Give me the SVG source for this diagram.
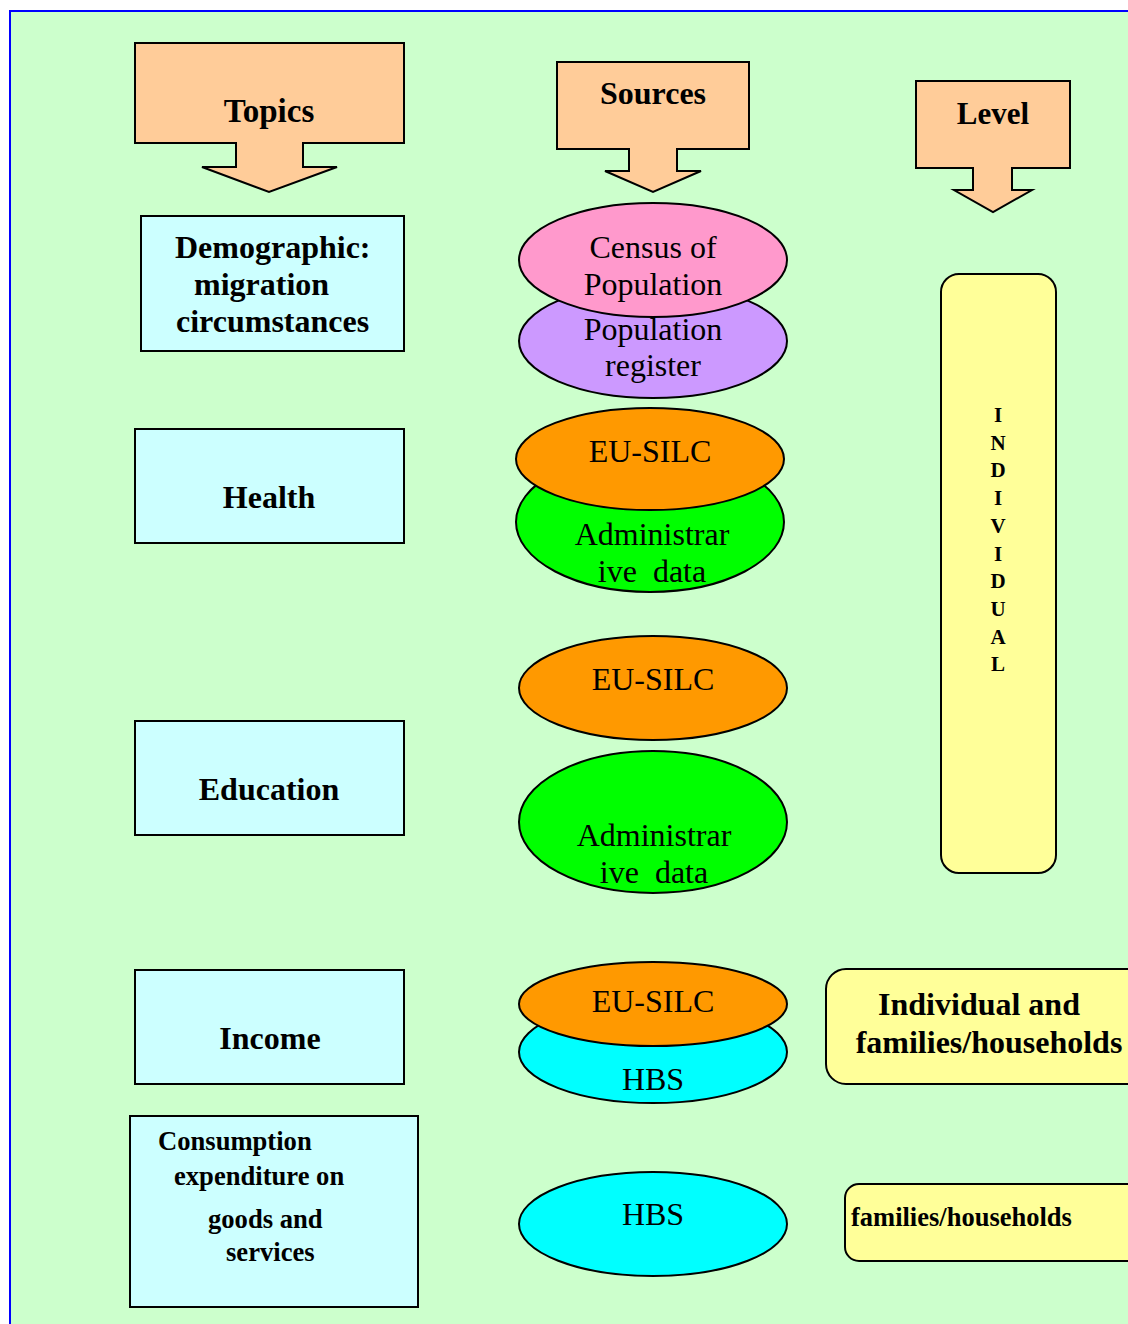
<svg xmlns="http://www.w3.org/2000/svg" width="1128" height="1324" viewBox="0 0 1128 1324">
<style>
.hdr{fill:#FFCC99;stroke:#000;stroke-width:2}
.topic{fill:#CCFFFF;stroke:#000;stroke-width:2}
.lvl{fill:#FFFF99;stroke:#000;stroke-width:2}
.ell{stroke:#000;stroke-width:2}
.b{font-family:"Liberation Serif",serif;font-weight:bold;fill:#000}
.r{font-family:"Liberation Serif",serif;fill:#000;font-size:32px;text-anchor:middle}
</style>
<rect x="0" y="0" width="1128" height="1324" fill="#fff"/>
<rect x="10" y="11" width="1130" height="1330" fill="#CCFFCC" stroke="#0000FF" stroke-width="2"/>
<g id="connectors"></g>
<g id="hdr-topics">
<path class="hdr" d="M135,43 H404 V143 H303 V167 H337 L269,192 L202,167 H236 V143 H135 Z"/>
<text class="b" x="269" y="122" font-size="33" text-anchor="middle">Topics</text>
</g>
<g id="hdr-sources">
<path class="hdr" d="M557,62 H749 V149 H677 V171 H701 L653,192 L605,171 H629 V149 H557 Z"/>
<text class="b" x="653" y="104" font-size="32" text-anchor="middle">Sources</text>
</g>
<g id="hdr-level">
<path class="hdr" d="M916,81 H1070 V168 H1012 V190 H1032 L993,212 L954,190 H973 V168 H916 Z"/>
<text class="b" x="993" y="124" font-size="31" text-anchor="middle">Level</text>
</g>
<g id="t-demo">
<rect class="topic" x="141" y="216" width="263" height="135"/>
<text class="b" font-size="32"><tspan x="175" y="258">Demographic:</tspan><tspan x="194" y="295">migration</tspan><tspan x="176" y="332">circumstances</tspan></text>
</g>
<g id="t-health">
<rect class="topic" x="135" y="429" width="269" height="114"/>
<text class="b" x="269" y="508" font-size="32" text-anchor="middle">Health</text>
</g>
<g id="t-edu">
<rect class="topic" x="135" y="721" width="269" height="114"/>
<text class="b" x="269" y="800" font-size="32" text-anchor="middle">Education</text>
</g>
<g id="t-income">
<rect class="topic" x="135" y="970" width="269" height="114"/>
<text class="b" x="270" y="1049" font-size="32" text-anchor="middle">Income</text>
</g>
<g id="t-cons">
<rect class="topic" x="130" y="1116" width="288" height="191"/>
<text class="b" font-size="26.6"><tspan x="158" y="1150">Consumption</tspan><tspan x="174" y="1185">expenditure on</tspan><tspan x="208" y="1228">goods and</tspan><tspan x="226" y="1261">services</tspan></text>
</g>
<g id="s-popreg">
<ellipse class="ell" cx="653" cy="341" rx="134" ry="57" fill="#CC99FF"/>
<text class="r"><tspan x="653" y="340">Population</tspan><tspan x="653" y="376">register</tspan></text>
</g>
<g id="s-census">
<ellipse class="ell" cx="653" cy="260" rx="134" ry="57" fill="#FF99CC"/>
<text class="r"><tspan x="653" y="258">Census of</tspan><tspan x="653" y="295">Population</tspan></text>
</g>
<g id="s-admin1">
<ellipse class="ell" cx="650" cy="522" rx="134" ry="70" fill="#00FF00"/>
<text class="r"><tspan x="652" y="545">Administrar</tspan><tspan x="652" y="582" xml:space="preserve">ive  data</tspan></text>
</g>
<g id="s-silc1">
<ellipse class="ell" cx="650" cy="459" rx="134" ry="51" fill="#FF9900"/>
<text class="r" x="650" y="462">EU-SILC</text>
</g>
<g id="s-silc2">
<ellipse class="ell" cx="653" cy="688" rx="134" ry="52" fill="#FF9900"/>
<text class="r" x="653" y="690">EU-SILC</text>
</g>
<g id="s-admin2">
<ellipse class="ell" cx="653" cy="822" rx="134" ry="71" fill="#00FF00"/>
<text class="r"><tspan x="654" y="846">Administrar</tspan><tspan x="654" y="883" xml:space="preserve">ive  data</tspan></text>
</g>
<g id="s-hbs1">
<ellipse class="ell" cx="653" cy="1052" rx="134" ry="51" fill="#00FFFF"/>
<text class="r" x="653" y="1090">HBS</text>
</g>
<g id="s-silc3">
<ellipse class="ell" cx="653" cy="1004" rx="134" ry="42" fill="#FF9900"/>
<text class="r" x="653" y="1012">EU-SILC</text>
</g>
<g id="s-hbs2">
<ellipse class="ell" cx="653" cy="1224" rx="134" ry="52" fill="#00FFFF"/>
<text class="r" x="653" y="1225">HBS</text>
</g>
<g id="l-individual">
<rect class="lvl" x="941" y="274" width="115" height="599" rx="18"/>
<text class="b" font-size="21" text-anchor="middle"><tspan x="998" y="422">I</tspan><tspan x="998" y="450">N</tspan><tspan x="998" y="477">D</tspan><tspan x="998" y="505">I</tspan><tspan x="998" y="533">V</tspan><tspan x="998" y="561">I</tspan><tspan x="998" y="588">D</tspan><tspan x="998" y="616">U</tspan><tspan x="998" y="644">A</tspan><tspan x="998" y="671">L</tspan></text>
</g>
<g id="l-indfam">
<rect class="lvl" x="826" y="969" width="320" height="115" rx="20"/>
<text class="b" font-size="32" text-anchor="middle"><tspan x="979" y="1015">Individual and</tspan><tspan x="989" y="1053">families/households</tspan></text>
</g>
<g id="l-fam">
<rect class="lvl" x="845" y="1184" width="300" height="77" rx="14"/>
<text class="b" x="851" y="1226" font-size="26.5">families/households</text>
</g>
</svg>
